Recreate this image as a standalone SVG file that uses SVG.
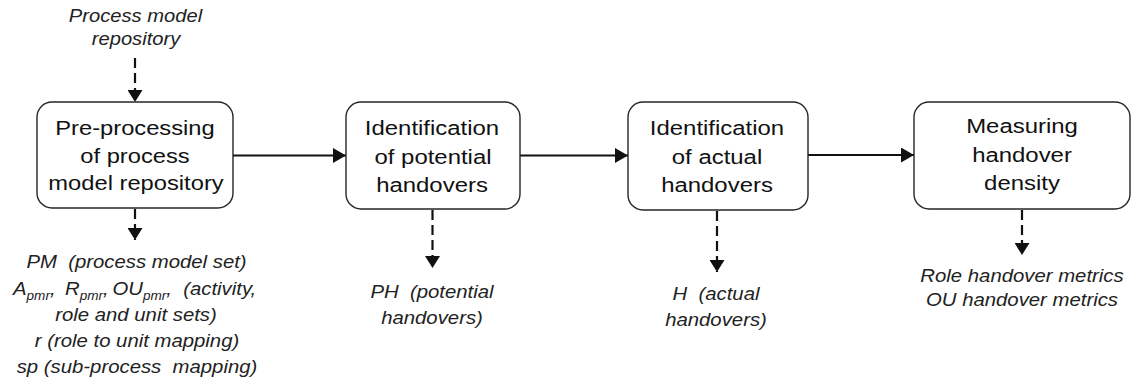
<svg xmlns="http://www.w3.org/2000/svg" width="1131" height="385" viewBox="0 0 1131 385">
<style>
  .box { fill: #ffffff; stroke: #262626; stroke-width: 1.4; }
  .bt { font-family: "Liberation Sans", Arial, sans-serif; font-size: 21px; fill: #111111; text-anchor: middle; }
  .lb { font-family: "Liberation Sans", Arial, sans-serif; font-size: 18px; font-style: italic; fill: #222222; text-anchor: middle; }
  .ls { font-family: "Liberation Sans", Arial, sans-serif; font-size: 18px; font-style: italic; fill: #222222; }
  .sub { font-size: 12px; }
  .solid { stroke: #111111; stroke-width: 2; fill: none; }
  .dash { stroke: #111111; stroke-width: 2.2; fill: none; stroke-dasharray: 10 5; }
</style>
<defs>
  <marker id="hs" markerUnits="userSpaceOnUse" markerWidth="13" markerHeight="15" refX="13" refY="7.5" orient="auto">
    <path d="M0,0 L13,7.5 L0,15 z" fill="#111111"/>
  </marker>
  <marker id="hd" markerUnits="userSpaceOnUse" markerWidth="12" markerHeight="15" refX="12" refY="7.5" orient="auto">
    <path d="M0,0 L12,7.5 L0,15 z" fill="#111111"/>
  </marker>
</defs>
<rect width="1131" height="385" fill="#ffffff"/>

<g id="connectors">
  <line class="solid" x1="233" y1="155.5" x2="346" y2="155.5" marker-end="url(#hs)"/>
  <line class="solid" x1="520" y1="155.5" x2="628" y2="155.5" marker-end="url(#hs)"/>
  <line class="solid" x1="808" y1="155" x2="914" y2="155" marker-end="url(#hs)"/>
  <line class="dash" x1="135" y1="58" x2="135" y2="102" marker-end="url(#hd)"/>
  <line class="dash" x1="135" y1="209" x2="135" y2="240" marker-end="url(#hd)"/>
  <line class="dash" x1="432.5" y1="210" x2="432.5" y2="268" marker-end="url(#hd)"/>
  <line class="dash" x1="717" y1="211" x2="717" y2="272" marker-end="url(#hd)"/>
  <line class="dash" x1="1022" y1="210" x2="1022" y2="255" marker-end="url(#hd)"/>
</g>

<g id="node-preprocessing">
  <rect class="box" x="37" y="102" width="196" height="106" rx="15" ry="15"/>
  <text class="bt" transform="matrix(1.13 0 0 1 135 135)">Pre-processing</text>
  <text class="bt" transform="matrix(1.13 0 0 1 135 163)">of process</text>
  <text class="bt" transform="matrix(1.13 0 0 1 136 190)">model repository</text>
</g>

<g id="node-potential">
  <rect class="box" x="346" y="102" width="174" height="107" rx="15" ry="15"/>
  <text class="bt" transform="matrix(1.14 0 0 1 432 135)">Identification</text>
  <text class="bt" transform="matrix(1.14 0 0 1 433 164)">of potential</text>
  <text class="bt" transform="matrix(1.14 0 0 1 432 192)">handovers</text>
</g>

<g id="node-actual">
  <rect class="box" x="628" y="102" width="180" height="108" rx="15" ry="15"/>
  <text class="bt" transform="matrix(1.14 0 0 1 717 135)">Identification</text>
  <text class="bt" transform="matrix(1.14 0 0 1 717 164)">of actual</text>
  <text class="bt" transform="matrix(1.14 0 0 1 717 192)">handovers</text>
</g>

<g id="node-measuring">
  <rect class="box" x="914" y="102" width="216" height="107" rx="15" ry="15"/>
  <text class="bt" transform="matrix(1.14 0 0 1 1022 133)">Measuring</text>
  <text class="bt" transform="matrix(1.14 0 0 1 1022 162)">handover</text>
  <text class="bt" transform="matrix(1.14 0 0 1 1022 190)">density</text>
</g>

<g id="label-input">
  <text class="lb" transform="matrix(1.12 0 0 1 135.5 22)">Process model</text>
  <text class="lb" transform="matrix(1.12 0 0 1 136 45)">repository</text>
</g>

<g id="label-preprocessing-output">
  <text class="lb" transform="matrix(1.13 0 0 1 136.5 268)">PM&#160; (process model set)</text>
  <g transform="matrix(1.13 0 0 1 13 295)">
    <text class="ls" x="0" y="0">A<tspan class="sub" dy="5">pmr</tspan><tspan dy="-5">, </tspan></text>
    <text class="ls" x="46" y="0">R<tspan class="sub" dy="5">pmr</tspan><tspan dy="-5">, </tspan></text>
    <text class="ls" x="88" y="0">OU<tspan class="sub" dy="5">pmr</tspan><tspan dy="-5">,&#160; (activity,</tspan></text>
  </g>
  <text class="lb" transform="matrix(1.13 0 0 1 136 321)">role and unit sets)</text>
  <text class="lb" transform="matrix(1.13 0 0 1 137 347)">r (role to unit mapping)</text>
  <text class="lb" transform="matrix(1.13 0 0 1 137 373)">sp (sub-process&#160; mapping)</text>
</g>

<g id="label-potential-output">
  <text class="lb" transform="matrix(1.13 0 0 1 432 298)">PH&#160; (potential</text>
  <text class="lb" transform="matrix(1.13 0 0 1 432 324)">handovers)</text>
</g>

<g id="label-actual-output">
  <text class="lb" transform="matrix(1.13 0 0 1 716 300)">H&#160; (actual</text>
  <text class="lb" transform="matrix(1.13 0 0 1 716 326)">handovers)</text>
</g>

<g id="label-measuring-output">
  <text class="lb" transform="matrix(1.13 0 0 1 1022 282)">Role handover metrics</text>
  <text class="lb" transform="matrix(1.13 0 0 1 1022 306)">OU handover metrics</text>
</g>
</svg>
